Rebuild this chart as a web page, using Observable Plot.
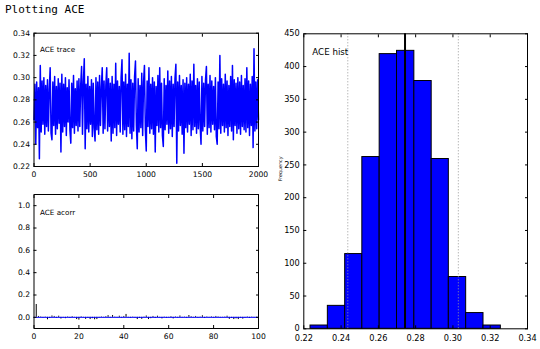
<!DOCTYPE html>
<html><head><meta charset="utf-8">
<script src="https://cdn.jsdelivr.net/npm/d3@7"></script>
<script src="https://cdn.jsdelivr.net/npm/@observablehq/plot@0.6"></script>
<style>
body{margin:0;background:#fff;}
#page{position:relative;width:540px;height:349px;overflow:hidden;font-family:"DejaVu Sans",sans-serif;color:#000;}
#title{position:absolute;left:5px;top:3px;font-family:"DejaVu Sans Mono",monospace;font-size:11px;line-height:13px;white-space:nowrap;}
.panel{position:absolute;}
.panel svg{overflow:visible;}
</style></head><body>
<div id="page"><div id="title">Plotting ACE</div></div>
<script>
// ---- data ----
const traceStep = 8; // iterations between plotted samples
const traceValues = [
0.262,0.294,0.240,0.296,0.255,0.291,0.227,0.311,0.251,0.297,
0.258,0.300,0.249,0.293,0.256,0.298,0.252,0.289,0.309,0.250,
0.244,0.296,0.257,0.301,0.249,0.292,0.254,0.299,0.259,0.295,
0.233,0.303,0.251,0.294,0.256,0.300,0.248,0.291,0.260,0.298,
0.253,0.241,0.295,0.255,0.302,0.250,0.290,0.257,0.297,0.252,
0.299,0.256,0.293,0.310,0.249,0.296,0.317,0.236,0.294,0.254,
0.301,0.251,0.292,0.258,0.298,0.247,0.295,0.255,0.243,0.300,
0.253,0.296,0.249,0.302,0.257,0.291,0.309,0.250,0.297,0.254,
0.293,0.309,0.252,0.299,0.256,0.295,0.243,0.301,0.250,0.294,
0.255,0.313,0.248,0.297,0.258,0.292,0.251,0.300,0.316,0.249,
0.296,0.253,0.303,0.247,0.294,0.256,0.322,0.250,0.298,0.245,
0.295,0.252,0.301,0.315,0.257,0.236,0.299,0.251,0.293,0.255,
0.304,0.248,0.296,0.311,0.253,0.234,0.297,0.256,0.309,0.250,
0.294,0.254,0.300,0.249,0.296,0.233,0.292,0.257,0.302,0.251,
0.309,0.255,0.295,0.248,0.238,0.299,0.253,0.293,0.258,0.306,
0.250,0.297,0.254,0.301,0.247,0.294,0.256,0.299,0.312,0.223,
0.296,0.252,0.302,0.257,0.293,0.249,0.298,0.232,0.295,0.255,
0.300,0.251,0.294,0.258,0.303,0.248,0.297,0.253,0.312,0.256,
0.293,0.250,0.299,0.254,0.296,0.257,0.240,0.301,0.252,0.295,
0.256,0.298,0.310,0.249,0.294,0.255,0.302,0.251,0.297,0.258,
0.292,0.253,0.300,0.247,0.240,0.296,0.254,0.320,0.250,0.299,
0.257,0.294,0.251,0.303,0.255,0.297,0.248,0.293,0.256,0.301,
0.252,0.311,0.244,0.298,0.257,0.295,0.250,0.300,0.254,0.296,
0.249,0.302,0.256,0.293,0.253,0.299,0.251,0.309,0.255,0.297,
0.248,0.294,0.257,0.301,0.237,0.326,0.252,0.296,0.254,0.298,
0.262
];
const traceXTicks = [0, 500, 1000, 1500, 2000];
const traceYTicks = [0.22, 0.24, 0.26, 0.28, 0.30, 0.32, 0.34];

const acorrValues = [ // lags 1..100
0.115,0.008,0.004,-0.006,0.003,-0.022,-0.010,0.012,0.008,-0.008,
0.010,-0.015,-0.005,-0.012,0.004,-0.008,0.006,-0.003,-0.020,-0.025,
0.005,-0.004,-0.018,-0.008,-0.020,-0.012,-0.022,-0.020,-0.006,0.004,
-0.003,0.006,0.015,-0.005,0.016,0.003,-0.004,0.010,-0.006,0.008,
0.026,-0.004,-0.008,0.003,-0.006,-0.020,-0.010,-0.018,0.003,0.012,
-0.020,-0.012,0.008,-0.010,0.010,-0.004,-0.014,0.003,-0.008,-0.004,
0.006,-0.014,0.004,-0.006,0.012,-0.005,0.003,-0.008,0.016,0.006,
-0.004,0.008,-0.006,0.003,0.014,-0.010,0.004,-0.003,0.005,-0.006,
0.008,0.004,-0.005,-0.003,0.003,0.010,-0.018,-0.010,-0.020,-0.014,
-0.020,-0.008,-0.016,-0.006,0.004,-0.010,0.003,-0.004,0.002,-0.003
];
const acorrXTicks = [0, 20, 40, 60, 80, 100];
const acorrYTicks = [0.0, 0.2, 0.4, 0.6, 0.8, 1.0];

const histEdges = [0.2236,0.2329,0.2422,0.2514,0.2607,0.2700,0.2793,0.2886,0.2978,0.3071,0.3164,0.3257];
const histCounts = [5, 35, 114, 262, 419, 424, 378, 259, 79, 24, 5];
const histMean = 0.2743;
const histInterval = [0.2436, 0.3029];
const histXTicks = [0.22, 0.24, 0.26, 0.28, 0.30, 0.32, 0.34];
const histYTicks = [0, 50, 100, 150, 200, 250, 300, 350, 400, 450];

// ---- helpers ----
const blue = "#0000ff";
const font = "DejaVu Sans";
const blank = () => "";
function frameAxes(xt, yt, xf, yf, fs, xpad) {
  return [
    Plot.axisX(xt, {anchor: "bottom", tickSize: 3, dy: -3, tickFormat: blank, label: null}),
    Plot.axisX(xt, {anchor: "top", tickSize: 3, dy: 3, tickFormat: blank, label: null}),
    Plot.axisY(yt, {anchor: "left", tickSize: 3, dx: 3, tickFormat: blank, label: null}),
    Plot.axisY(yt, {anchor: "right", tickSize: 3, dx: -3, tickFormat: blank, label: null}),
    Plot.axisX(xt, {anchor: "bottom", tickSize: 0, tickPadding: xpad, tickFormat: xf, fontSize: fs, label: null}),
    Plot.axisY(yt, {anchor: "left", tickSize: 0, tickPadding: 4, tickFormat: yf, fontSize: fs, label: null}),
    Plot.frame({stroke: "black"})
  ];
}
function place(svg, left, top) {
  const div = document.createElement("div");
  div.className = "panel";
  div.style.left = left + "px";
  div.style.top = top + "px";
  div.appendChild(svg);
  document.getElementById("page").appendChild(div);
}

// ---- trace panel ----
const traceData = traceValues.map((v, i) => ({iter: i * traceStep, value: v}));
place(Plot.plot({
  width: 265, height: 165,
  marginLeft: 33.5, marginRight: 7, marginTop: 12.7, marginBottom: 19,
  style: {fontFamily: font, color: "black", background: "transparent"},
  x: {domain: [0, 2000], label: null},
  y: {domain: [0.22, 0.34], label: null},
  marks: [
    Plot.line(traceData, {x: "iter", y: "value", stroke: blue, strokeWidth: 1.5}),
    Plot.text(["ACE trace"], {frameAnchor: "top-left", dx: 6, dy: 14, fontSize: 7.2, text: d => d, fill: "black"}),
    ...frameAxes(traceXTicks, traceYTicks, d3.format("d"), d3.format(".2f"), 7.6, 5)
  ]
}), 0, 20);

// ---- autocorrelation panel ----
const acorrData = acorrValues.map((v, i) => ({lag: i + 1, value: v}));
place(Plot.plot({
  width: 265, height: 164,
  marginLeft: 33.5, marginRight: 7, marginTop: 9, marginBottom: 21,
  style: {fontFamily: font, color: "black", background: "transparent"},
  x: {domain: [0, 100], label: null},
  y: {domain: [-0.1, 1.1], label: null},
  marks: [
    Plot.ruleX(acorrData, {x: "lag", y1: 0, y2: "value", stroke: "black", strokeWidth: 1}),
    Plot.ruleY([0], {stroke: blue, strokeWidth: 1}),
    Plot.text(["ACE acorr"], {frameAnchor: "top-left", dx: 6, dy: 15, fontSize: 7.2, text: d => d, fill: "black"}),
    ...frameAxes(acorrXTicks, acorrYTicks, d3.format("d"), d3.format(".1f"), 7.6, 5)
  ]
}), 0, 185);

// ---- histogram panel ----
const histBins = histCounts.map((c, i) => ({x1: histEdges[i], x2: histEdges[i + 1], count: c}));
place(Plot.plot({
  width: 270, height: 329,
  marginLeft: 33.3, marginRight: 13, marginTop: 13.3, marginBottom: 20.7,
  style: {fontFamily: font, color: "black", background: "transparent"},
  x: {domain: [0.22, 0.34], label: null},
  y: {domain: [0, 450], label: null},
  marks: [
    Plot.rectY(histBins, {x1: "x1", x2: "x2", y: "count", fill: blue, stroke: "black", strokeWidth: 1}),
    Plot.ruleX(histInterval, {stroke: "#999", strokeWidth: 1, strokeDasharray: "1,2"}),
    Plot.ruleX([histMean], {stroke: "black", strokeWidth: 2}),
    Plot.text(["ACE hist"], {frameAnchor: "top-left", dx: 8.5, dy: 15.5, fontSize: 8.7, text: d => d, fill: "black"}),
    Plot.text(["Frequency"], {frameAnchor: "left", dx: -23, rotate: -90, fontSize: 4.8, text: d => d, fill: "black"}),
    ...frameAxes(histXTicks, histYTicks, d3.format(".2f"), d3.format("d"), 8.2, 6.5)
  ]
}), 270, 20);
</script>
</body></html>
